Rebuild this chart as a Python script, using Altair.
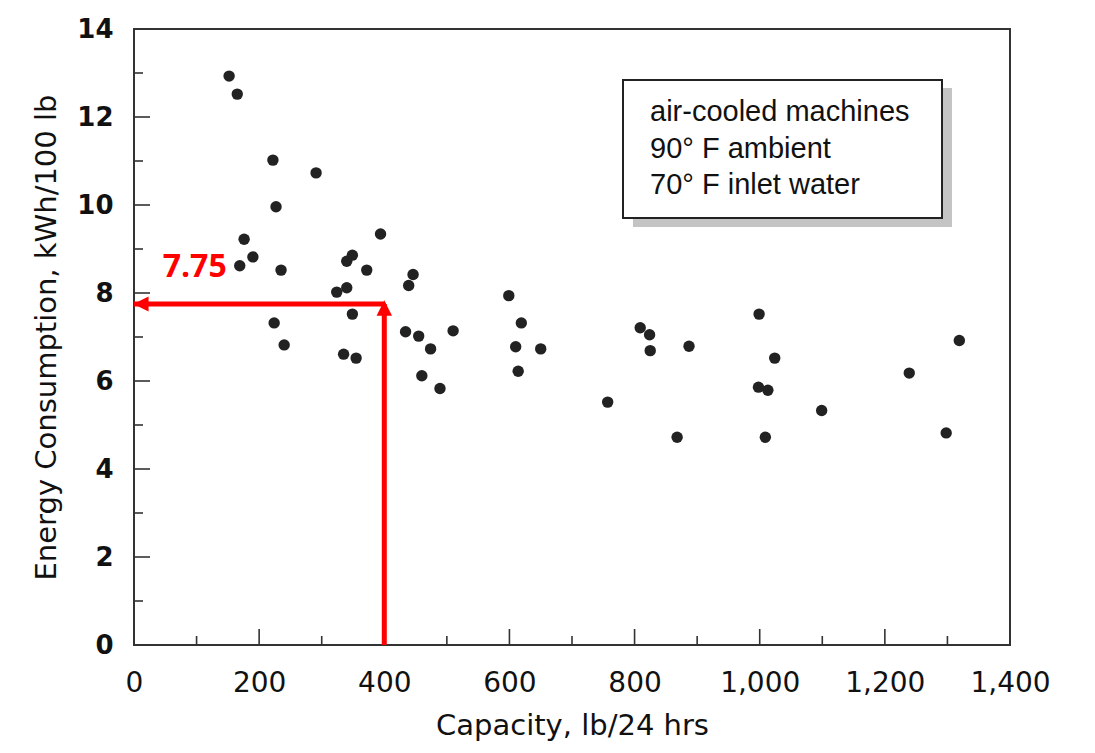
import altair as alt
import pandas as pd

# ---- data ----
capacity = [152, 165, 222, 291, 227, 176, 190, 169, 235, 394,
            349, 340, 372, 446, 439, 324, 340, 349, 224, 240,
            335, 355, 434, 455, 474, 510, 460, 489, 599, 619,
            610, 650, 614, 757, 809, 824, 825, 887, 868, 999,
            998, 1013, 1024, 1009, 1099, 1239, 1319, 1298]
energy = [12.93, 12.52, 11.02, 10.73, 9.96, 9.22, 8.82, 8.62, 8.52, 9.34,
          8.86, 8.72, 8.52, 8.42, 8.17, 8.02, 8.12, 7.52, 7.32, 6.82,
          6.61, 6.52, 7.12, 7.02, 6.73, 7.14, 6.12, 5.83, 7.94, 7.32,
          6.78, 6.73, 6.22, 5.52, 7.21, 7.05, 6.69, 6.79, 4.72, 7.52,
          5.86, 5.79, 6.52, 4.72, 5.33, 6.18, 6.92, 4.82]

x_major = [0, 200, 400, 600, 800, 1000, 1200, 1400]
x_minor = [100, 300, 500, 700, 900, 1100, 1300]
y_major = [0, 2, 4, 6, 8, 10, 12, 14]
y_minor = [1, 3, 5, 7, 9, 11, 13]

ref_capacity = 400
ref_energy = 7.75
ref_label = "7.75"
ref_label_x = 97
ref_label_y = 8.59

legend_lines = ["air-cooled machines", "90° F ambient", "70° F inlet water"]

x_title = "Capacity, lb/24 hrs"
y_title = "Energy Consumption, kWh/100 lb"

# ---- layout ----
W, H = 876, 616
xscale = alt.Scale(domain=[0, 1400], nice=False, zero=False)
yscale = alt.Scale(domain=[0, 14], nice=False, zero=False)

xaxis = alt.Axis(values=x_major, labelExpr="format(datum.value, ',.0f')", grid=False,
                 domain=False, ticks=False, tickSize=0, labelPadding=24,
                 labelFont="DejaVu Sans", labelFontSize=28, labelColor="#111",
                 title=x_title, titleFont="DejaVu Sans", titleFontSize=29,
                 titleFontWeight="normal", titleColor="#111", titlePadding=14,
                 labelFlush=False)
yaxis = alt.Axis(values=y_major, labelExpr="format(datum.value, '.0f')", grid=False,
                 domain=False, ticks=False, tickSize=0, labelPadding=21,
                 labelFont="DejaVu Sans", labelFontSize=26, labelFontWeight="bold",
                 labelColor="#111", title=y_title, titleFont="DejaVu Sans",
                 titleFontSize=29, titleFontWeight="normal", titleColor="#111",
                 titlePadding=15, labelFlush=False)


def X(field):
    return alt.X(field, type="quantitative", scale=xscale, axis=xaxis)


def Y(field):
    return alt.Y(field, type="quantitative", scale=yscale, axis=yaxis)


pts = pd.DataFrame({"capacity": capacity, "energy": energy})
dummy = alt.Data(values=[{"a": 1}])

# legend box with shadow
shadow = alt.Chart(dummy).mark_rect(color="#c4c4c4").encode(
    x=alt.value(499), x2=alt.value(818), y=alt.value(59), y2=alt.value(198))
box = alt.Chart(dummy).mark_rect(fill="white", stroke="#222", strokeWidth=2).encode(
    x=alt.value(489), x2=alt.value(808), y=alt.value(51), y2=alt.value(189))
legend_texts = [
    alt.Chart(dummy).mark_text(align="left", baseline="middle", font="Liberation Sans",
                               fontSize=29, color="#111", text=line).encode(
        x=alt.value(516), y=alt.value(83 + 36.5 * i))
    for i, line in enumerate(legend_lines)
]


# inward ticks
def xticks(vals, length):
    return alt.Chart(pd.DataFrame({"v": vals})).mark_rule(color="#333", strokeWidth=1.6).encode(
        x=X("v"), y=alt.value(H), y2=alt.value(H - length))


def yticks(vals, length):
    return alt.Chart(pd.DataFrame({"v": vals})).mark_rule(color="#333", strokeWidth=1.6).encode(
        y=Y("v"), x=alt.value(0), x2=alt.value(length))


tick_layers = [xticks(x_major, 16), xticks(x_minor, 9), yticks(y_major, 16), yticks(y_minor, 9)]

points = alt.Chart(pts).mark_circle(size=130, color="#222", opacity=1).encode(
    x=X("capacity"), y=Y("energy"))

ref = pd.DataFrame({"x0": [0], "x1": [ref_capacity], "y0": [0], "y1": [ref_energy],
                    "lab": [ref_label], "lx": [ref_label_x], "ly": [ref_label_y]})

h_arrow = alt.Chart(ref).mark_rule(color="#ff0000", strokeWidth=5, strokeCap="butt").encode(
    x=X("x0"), x2="x1", y=Y("y1"))
v_arrow = alt.Chart(ref).mark_rule(color="#ff0000", strokeWidth=5, strokeCap="butt").encode(
    x=X("x1"), y=Y("y0"), y2="y1")
h_head = alt.Chart(ref).mark_point(shape="M-1,0L1,-1L1,1Z", filled=True, color="#ff0000",
                                   opacity=1, size=230, strokeWidth=0, xOffset=7).encode(
    x=X("x0"), y=Y("y1"))
v_head = alt.Chart(ref).mark_point(shape="M0,-1L1,1L-1,1Z", filled=True, color="#ff0000",
                                   opacity=1, size=240, strokeWidth=0, yOffset=4).encode(
    x=X("x1"), y=Y("y1"))
ref_text = alt.Chart(ref).mark_text(font="Open Sans", fontWeight="bold", fontSize=32,
                                    color="#ff0000", align="center", baseline="middle").encode(
    x=X("lx"), y=Y("ly"), text="lab:N")

chart = alt.layer(
    shadow, box, *legend_texts, *tick_layers, points,
    h_arrow, v_arrow, h_head, v_head, ref_text
).properties(
    width=W, height=H,
    padding={"left": 126, "top": 21, "right": 70, "bottom": 100},
    autosize=alt.AutoSizeParams(type="none"),
    background="white",
).configure_view(stroke="#333", strokeWidth=2)

chart.save("out.html", embed_options={"renderer": "svg", "actions": False})
